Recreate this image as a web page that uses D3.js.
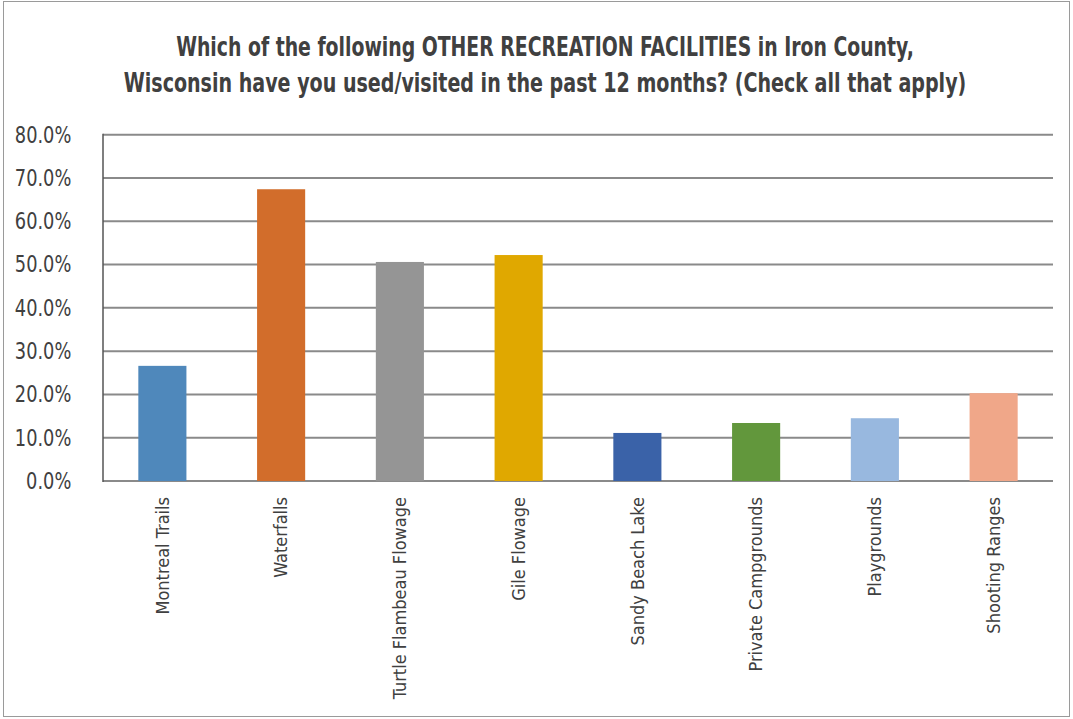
<!DOCTYPE html>
<html><head><meta charset="utf-8">
<script src="https://cdn.jsdelivr.net/npm/d3@7"></script>
<style>body{margin:0;background:#fff}</style>
</head><body>
<script>
const categories = ["Montreal Trails","Waterfalls","Turtle Flambeau Flowage","Gile Flowage","Sandy Beach Lake","Private Campgrounds","Playgrounds","Shooting Ranges"];
const values = [0.266,0.674,0.506,0.522,0.111,0.134,0.145,0.203];
const colors = ["#4F88BB","#D26D2B","#959595","#E0A800","#3A62A8","#62973C","#98B8DF","#F0A789"];
const yTicks = [0,0.1,0.2,0.3,0.4,0.5,0.6,0.7,0.8];
const titleLines = ["Which of the following OTHER RECREATION FACILITIES in Iron County,","Wisconsin have you used/visited in the past 12 months? (Check all that apply)"];
const titleWidths = [738, 843];

const W=1073,H=719;
const font = "'DejaVu Sans Condensed','Liberation Sans Narrow',sans-serif";
const svg = d3.select("body").append("svg").attr("width",W).attr("height",H);
svg.append("rect").attr("x",3.5).attr("y",1.5).attr("width",1066).attr("height",715)
  .attr("fill","#fff").attr("stroke","#9a9a9a").attr("stroke-width",1);

const m={left:103,right:1053,top:134.7,bottom:481};
const x=d3.scaleBand().domain(categories).range([m.left,m.right]).paddingInner(0.595).paddingOuter(0.2975);
const y=d3.scaleLinear().domain([0,0.8]).range([m.bottom,m.top]);

// gridlines
svg.append("g").selectAll("line").data(yTicks).join("line")
  .attr("x1",m.left).attr("x2",m.right).attr("y1",d=>y(d)).attr("y2",d=>y(d))
  .attr("stroke","#8a8a8a").attr("stroke-width",2);
svg.append("line").attr("x1",m.left).attr("x2",m.left).attr("y1",m.top-1).attr("y2",m.bottom+1)
  .attr("stroke","#555").attr("stroke-width",1.5);

// bars
svg.append("g").selectAll("rect").data(categories).join("rect")
  .attr("x",d=>x(d)).attr("width",x.bandwidth())
  .attr("y",(d,i)=>y(values[i])).attr("height",(d,i)=>y(0)-y(values[i]))
  .attr("fill",(d,i)=>colors[i]);

// y axis labels
const ya=svg.append("g").attr("transform",`translate(${m.left},0)`)
  .call(d3.axisLeft(y).tickValues(yTicks).tickFormat(d3.format(".1%")).tickSize(0).tickPadding(24));
ya.select(".domain").remove();
ya.selectAll("text").attr("font-family",font).attr("font-size",23).attr("fill","#404040")
  .attr("transform","translate(-79,0) scale(0.86,1) translate(79,0)");

// x axis labels
const xa=svg.append("g").attr("transform",`translate(0,${m.bottom})`)
  .call(d3.axisBottom(x).tickSize(0));
xa.select(".domain").remove();
xa.selectAll("text").attr("font-family",font).attr("font-size",18).attr("fill","#404040")
  .attr("text-anchor","end").attr("dy","0.35em")
  .attr("transform","translate(0,16) rotate(-90)").attr("x",0).attr("y",0);

// title (horizontally compressed to mimic the condensed original face)
svg.append("g").selectAll("text").data(titleLines).join("text")
  .attr("x",0).attr("y",0).attr("text-anchor","middle")
  .attr("font-family",font).attr("font-weight","bold").attr("font-size",27).attr("fill","#404040")
  .text(d=>d)
  .each(function(d,i){
    const w=this.getComputedTextLength();
    d3.select(this).attr("transform",`translate(545,${56+i*36}) scale(${titleWidths[i]/w},1)`);
  });
</script>
</body></html>
